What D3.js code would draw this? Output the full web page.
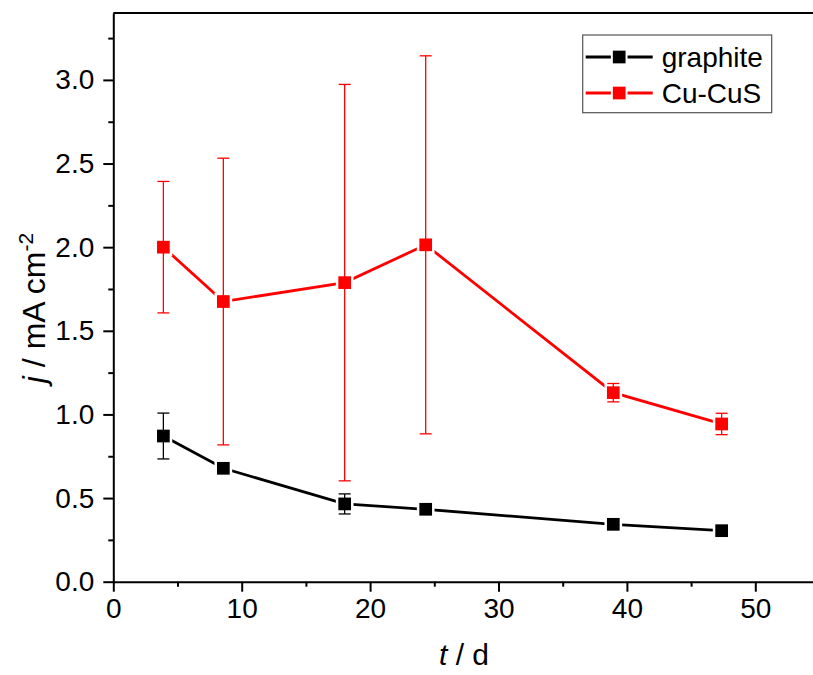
<!DOCTYPE html>
<html>
<head>
<meta charset="utf-8">
<script src="https://cdn.jsdelivr.net/npm/d3@7"></script>
<style>
  body { margin: 0; background: #fff; }
  svg { display: block; font-family: "Liberation Sans", Arial, sans-serif; }
</style>
</head>
<body>
<div id="chart"></div>
<script>
// data
var days = [3.9, 8.57, 18.02, 24.33, 38.94, 47.38];
var graphite = [0.871, 0.678, 0.465, 0.433, 0.343, 0.305];
var graphiteErr = [0.137, 0, 0.06, 0, 0, 0];
var cucus = [2.0, 1.675, 1.788, 2.014, 1.13, 0.943];
var cucusErr = [0.393, 0.857, 1.185, 1.13, 0.055, 0.064];
var xTicks = [0, 10, 20, 30, 40, 50];
var yTicks = [0.0, 0.5, 1.0, 1.5, 2.0, 2.5, 3.0];

var series = [
  {name: "graphite", color: "#000000", vals: graphite, err: graphiteErr},
  {name: "Cu-CuS", color: "#ff0000", vals: cucus, err: cucusErr}
];

var W = 813, H = 675;
var margin = {top: 13, left: 113.3, bottom: 93.3};
var width = 55 * 12.84,
    height = H - margin.top - margin.bottom;

var svg = d3.select("#chart").append("svg")
  .attr("width", W)
  .attr("height", H);

var g = svg.append("g")
  .attr("transform", "translate(" + margin.left + "," + margin.top + ")");

var x = d3.scaleLinear().domain([0, 55]).range([0, width]);
var y = d3.scaleLinear().domain([0, 3.4]).range([height, 0]);

// minor ticks
var xMinor = d3.range(5, 55, 10);
var yMinor = d3.range(0.25, 3.4, 0.5);

g.append("g")
  .attr("transform", "translate(0," + height + ")")
  .call(d3.axisBottom(x).tickValues(xTicks).tickFormat(d3.format("d")).tickSize(10).tickPadding(6).tickSizeOuter(0));
g.append("g")
  .attr("transform", "translate(0," + height + ")")
  .call(d3.axisBottom(x).tickValues(xMinor).tickFormat("").tickSize(5).tickSizeOuter(0))
  .select(".domain").remove();

g.append("g")
  .call(d3.axisLeft(y).tickValues(yTicks).tickFormat(d3.format(".1f")).tickSize(10).tickPadding(9).tickSizeOuter(0));
g.append("g")
  .call(d3.axisLeft(y).tickValues(yMinor).tickFormat("").tickSize(5).tickSizeOuter(0))
  .select(".domain").remove();

// top border
g.append("line")
  .attr("x1", 0).attr("x2", width)
  .attr("y1", 0).attr("y2", 0)
  .attr("stroke", "#000").attr("stroke-width", 2);

g.selectAll(".domain").attr("stroke-width", 2);
g.selectAll(".tick line").attr("stroke-width", 2);
g.selectAll(".tick text").attr("font-size", 28).attr("fill", "#000")
  .attr("font-family", "Liberation Sans, Arial, sans-serif");

// lines, markers, error bars
var line = d3.line()
  .x(function(d) { return x(d[0]); })
  .y(function(d) { return y(d[1]); });

var ms = 12.7;

series.forEach(function(s) {
  var pts = days.map(function(d, i) { return [d, s.vals[i], s.err[i]]; });
  g.append("path")
    .datum(pts)
    .attr("d", line)
    .attr("fill", "none")
    .attr("stroke", s.color)
    .attr("stroke-width", 2.8);
  // white halo so the line stops short of the marker
  g.selectAll(null).data(pts).enter().append("rect")
    .attr("x", function(d) { return x(d[0]) - ms / 2 - 2.5; })
    .attr("y", function(d) { return y(d[1]) - ms / 2 - 2.5; })
    .attr("width", ms + 5).attr("height", ms + 5)
    .attr("fill", "#fff");
  var eb = g.selectAll(null).data(pts.filter(function(d) { return d[2] > 0; })).enter().append("g")
    .attr("stroke", s.color).attr("stroke-width", 1.3);
  eb.append("line")
    .attr("x1", function(d) { return x(d[0]); })
    .attr("x2", function(d) { return x(d[0]); })
    .attr("y1", function(d) { return y(d[1] + d[2]); })
    .attr("y2", function(d) { return y(d[1] - d[2]); });
  eb.append("line")
    .attr("x1", function(d) { return x(d[0]) - 6; })
    .attr("x2", function(d) { return x(d[0]) + 6; })
    .attr("y1", function(d) { return y(d[1] + d[2]); })
    .attr("y2", function(d) { return y(d[1] + d[2]); });
  eb.append("line")
    .attr("x1", function(d) { return x(d[0]) - 6; })
    .attr("x2", function(d) { return x(d[0]) + 6; })
    .attr("y1", function(d) { return y(d[1] - d[2]); })
    .attr("y2", function(d) { return y(d[1] - d[2]); });
  g.selectAll(null).data(pts).enter().append("rect")
    .attr("x", function(d) { return x(d[0]) - ms / 2; })
    .attr("y", function(d) { return y(d[1]) - ms / 2; })
    .attr("width", ms).attr("height", ms)
    .attr("fill", s.color);
});

// axis titles
svg.append("text")
  .attr("x", 464).attr("y", 665)
  .attr("text-anchor", "middle")
  .attr("font-size", 30)
  .html('<tspan font-style="italic">t</tspan> / d');

svg.append("text")
  .attr("transform", "translate(45,308) rotate(-90)")
  .attr("text-anchor", "middle")
  .attr("font-size", 32)
  .html('<tspan font-style="italic">j</tspan> / mA cm<tspan dy="-12" font-size="21">-2</tspan>');

// legend
var lg = svg.append("g").attr("transform", "translate(582.7,35)");
lg.append("rect")
  .attr("width", 189).attr("height", 77.7)
  .attr("fill", "#fff").attr("stroke", "#555").attr("stroke-width", 1.2);
series.forEach(function(s, i) {
  var ry = 22 + i * 36;
  lg.append("line")
    .attr("x1", 3).attr("x2", 70)
    .attr("y1", ry).attr("y2", ry)
    .attr("stroke", s.color).attr("stroke-width", 2.8);
  lg.append("rect")
    .attr("x", 36.5 - ms / 2 - 2).attr("y", ry - ms / 2 - 2)
    .attr("width", ms + 4).attr("height", ms + 4)
    .attr("fill", "#fff");
  lg.append("rect")
    .attr("x", 36.5 - ms / 2).attr("y", ry - ms / 2)
    .attr("width", ms).attr("height", ms)
    .attr("fill", s.color);
  lg.append("text")
    .attr("x", 79).attr("y", ry + 10)
    .attr("font-size", 28)
    .text(s.name);
});
</script>
</body>
</html>
